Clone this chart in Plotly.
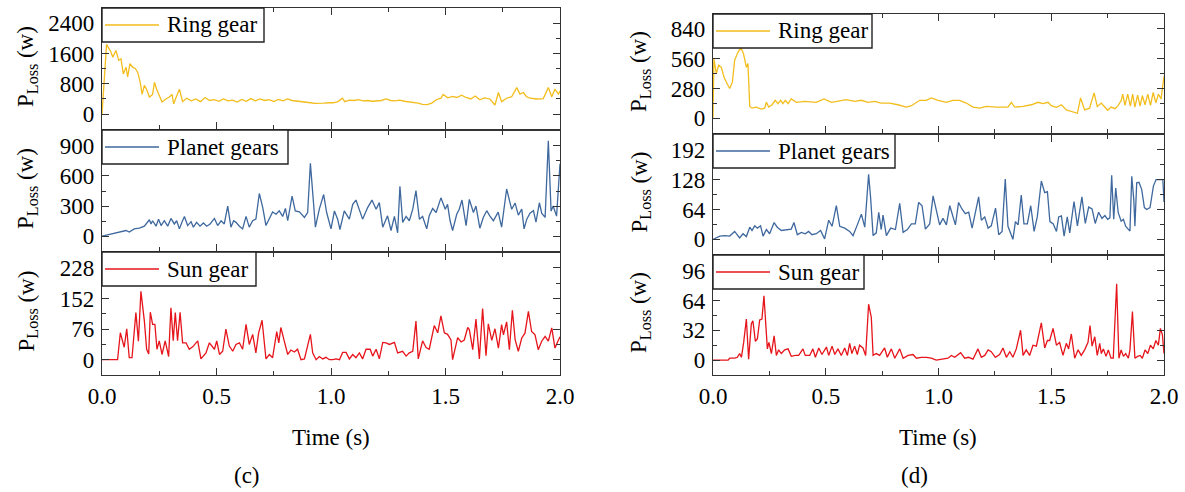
import plotly.graph_objects as go

W, H = 1185, 492
FONT = '"Liberation Serif", "Times New Roman", Times, serif'

# ---------------- data: panel (c) ----------------
ring_c_t = [0.000, 0.020, 0.039, 0.047, 0.061, 0.073, 0.083, 0.090, 0.093, 0.105,
            0.112, 0.122, 0.134, 0.146, 0.156, 0.167, 0.175, 0.185, 0.195, 0.207,
            0.221, 0.229, 0.239, 0.253, 0.262, 0.279, 0.294, 0.306, 0.313, 0.323,
            0.338, 0.352, 0.370, 0.390, 0.410, 0.430, 0.450, 0.470, 0.490, 0.510,
            0.530, 0.550, 0.570, 0.590, 0.610, 0.630, 0.650, 0.670, 0.690, 0.710,
            0.730, 0.750, 0.770, 0.790, 0.810, 0.830, 0.850, 0.870, 0.890, 0.910,
            0.930, 0.950, 0.970, 0.990, 1.010, 1.030, 1.050, 1.060, 1.080, 1.100,
            1.120, 1.140, 1.160, 1.180, 1.200, 1.220, 1.240, 1.260, 1.280, 1.300,
            1.320, 1.340, 1.360, 1.380, 1.400, 1.420, 1.440, 1.460, 1.480, 1.490,
            1.510, 1.530, 1.550, 1.570, 1.590, 1.610, 1.630, 1.650, 1.670, 1.694,
            1.716, 1.731, 1.745, 1.767, 1.789, 1.811, 1.825, 1.840, 1.854, 1.869,
            1.898, 1.927, 1.949, 1.964, 1.978, 1.993, 2.000]
ring_c_p = [0, 1840, 1640, 1500, 1680, 1420, 1460, 1200, 1060, 1240,
            980, 1330, 1240, 1200, 1100, 840, 520, 760, 650, 450,
            520, 840, 650, 450, 320, 400, 450, 520, 270, 430,
            660, 330, 420, 350, 400, 330, 440, 360, 380, 340,
            400, 350, 370, 320, 390, 340, 410, 350, 400, 360,
            380, 330, 390, 350, 400, 360, 340, 330, 310, 300,
            285, 280, 290, 300, 300, 330, 420, 330, 370, 360,
            380, 350, 360, 340, 350, 360, 400, 360, 350, 370,
            340, 330, 320, 290, 260, 250, 290, 380, 420, 520,
            430, 470, 440, 500, 440, 400, 480, 380, 430, 400,
            240, 570, 330, 420, 460, 700, 530, 570, 460, 420,
            400, 410, 700, 460, 660, 530, 610]

planet_c_t = [0.000, 0.030, 0.068, 0.105, 0.119, 0.141, 0.163, 0.185, 0.207, 0.214,
              0.221, 0.236, 0.247, 0.258, 0.272, 0.287, 0.301, 0.316, 0.326, 0.338,
              0.349, 0.360, 0.374, 0.389, 0.399, 0.413, 0.428, 0.443, 0.457, 0.472,
              0.491, 0.505, 0.520, 0.534, 0.549, 0.563, 0.575, 0.585, 0.600, 0.614,
              0.629, 0.643, 0.658, 0.672, 0.687, 0.702, 0.716, 0.731, 0.745, 0.760,
              0.774, 0.789, 0.801, 0.811, 0.830, 0.844, 0.862, 0.884, 0.898, 0.910,
              0.920, 0.932, 0.949, 0.968, 0.981, 1.000, 1.015, 1.029, 1.039, 1.058,
              1.080, 1.095, 1.109, 1.124, 1.138, 1.160, 1.179, 1.197, 1.211, 1.226,
              1.247, 1.262, 1.277, 1.291, 1.301, 1.313, 1.328, 1.342, 1.357, 1.371,
              1.386, 1.400, 1.418, 1.429, 1.444, 1.459, 1.470, 1.480, 1.499, 1.509,
              1.520, 1.531, 1.549, 1.560, 1.572, 1.590, 1.604, 1.622, 1.633, 1.650,
              1.665, 1.680, 1.694, 1.709, 1.730, 1.745, 1.767, 1.779, 1.789, 1.804,
              1.818, 1.833, 1.843, 1.855, 1.869, 1.884, 1.895, 1.910, 1.920, 1.935,
              1.949, 1.961, 1.970, 1.985, 1.995, 2.000]
planet_c_p = [0, 15, 34, 57, 41, 73, 80, 100, 164, 122,
              154, 100, 170, 106, 154, 100, 177, 122, 154, 73,
              138, 197, 106, 145, 90, 138, 100, 132, 100, 122,
              177, 106, 154, 122, 300, 90, 154, 138, 100, 73,
              197, 90, 154, 170, 425, 285, 106, 170, 242, 219,
              252, 197, 276, 154, 399, 252, 242, 187, 236, 725,
              464, 90, 269, 415, 236, 73, 252, 170, 67, 252,
              170, 317, 360, 252, 170, 285, 360, 269, 334, 90,
              203, 57, 197, 34, 497, 138, 197, 154, 269, 454,
              170, 197, 73, 203, 276, 236, 317, 382, 269, 317,
              154, 57, 219, 269, 360, 106, 366, 236, 300, 80,
              187, 254, 200, 154, 240, 90, 470, 360, 268, 330,
              210, 270, 73, 170, 230, 254, 140, 333, 230, 187,
              950, 250, 300, 200, 500, 720]

sun_c_t = [0.000, 0.068, 0.080, 0.097, 0.108, 0.119, 0.131, 0.148, 0.159, 0.170,
           0.185, 0.195, 0.204, 0.211, 0.221, 0.231, 0.240, 0.250, 0.262, 0.276,
           0.291, 0.301, 0.311, 0.320, 0.330, 0.341, 0.352, 0.367, 0.381, 0.396,
           0.418, 0.432, 0.454, 0.469, 0.491, 0.501, 0.513, 0.527, 0.541, 0.556,
           0.571, 0.585, 0.600, 0.614, 0.629, 0.643, 0.658, 0.672, 0.684, 0.699,
           0.716, 0.731, 0.745, 0.763, 0.772, 0.781, 0.796, 0.811, 0.825, 0.840,
           0.854, 0.869, 0.884, 0.910, 0.920, 0.935, 0.949, 0.964, 0.978, 0.993,
           1.008, 1.022, 1.037, 1.051, 1.066, 1.080, 1.095, 1.109, 1.124, 1.138,
           1.153, 1.171, 1.182, 1.197, 1.211, 1.226, 1.240, 1.255, 1.277, 1.291,
           1.313, 1.328, 1.342, 1.357, 1.371, 1.381, 1.400, 1.415, 1.429, 1.451,
           1.466, 1.480, 1.495, 1.509, 1.524, 1.531, 1.553, 1.568, 1.582, 1.597,
           1.604, 1.619, 1.633, 1.648, 1.662, 1.677, 1.687, 1.702, 1.716, 1.731,
           1.745, 1.753, 1.767, 1.779, 1.792, 1.804, 1.818, 1.833, 1.847, 1.862,
           1.876, 1.891, 1.905, 1.920, 1.935, 1.949, 1.964, 1.978, 1.988, 2.000]
sun_c_p = [0, 0, 67, 31, 77, 5, 5, 117, 46, 170,
           96, 26, 14, 118, 88, 88, 26, 47, 13, 47,
           8, 129, 47, 117, 47, 118, 42, 42, 26, 32,
           47, 2, 17, 42, 26, 47, 13, 21, 76, 34,
           21, 38, 42, 26, 88, 38, 63, 17, 67, 98,
           2, 13, 5, 70, 42, 80, 46, 13, 24, 19,
           26, 0, 2, 63, 17, 0, 8, 2, 6, 0,
           0, 2, 0, 18, 18, 2, 13, 5, 17, 2,
           26, 26, 9, 26, 2, 43, 42, 38, 43, 17,
           21, 9, 17, 21, 96, 2, 47, 30, 26, 85,
           67, 109, 67, 63, 49, 0, 55, 44, 49, 80,
           75, 25, 101, 2, 127, 10, 89, 48, 77, 29,
           87, 62, 94, 25, 123, 50, 21, 54, 66, 120,
           70, 62, 25, 46, 58, 46, 79, 29, 42, 57]

# ---------------- data: panel (d) ----------------
ring_d_t = [0.000, 0.004, 0.015, 0.025, 0.037, 0.049, 0.064, 0.074, 0.086, 0.096,
            0.108, 0.123, 0.135, 0.148, 0.155, 0.163, 0.173, 0.192, 0.214, 0.229,
            0.237, 0.247, 0.262, 0.276, 0.288, 0.300, 0.310, 0.321, 0.333, 0.347,
            0.370, 0.407, 0.458, 0.492, 0.525, 0.569, 0.591, 0.628, 0.658, 0.687,
            0.717, 0.746, 0.783, 0.820, 0.857, 0.880, 0.917, 0.946, 0.968, 0.998,
            1.035, 1.064, 1.094, 1.123, 1.153, 1.183, 1.212, 1.256, 1.308, 1.323,
            1.338, 1.375, 1.412, 1.441, 1.463, 1.486, 1.500, 1.523, 1.545, 1.567,
            1.589, 1.616, 1.630, 1.648, 1.670, 1.690, 1.704, 1.722, 1.740, 1.750,
            1.765, 1.783, 1.797, 1.810, 1.817, 1.827, 1.839, 1.851, 1.861, 1.871,
            1.883, 1.894, 1.904, 1.916, 1.928, 1.940, 1.952, 1.964, 1.975, 1.987,
            2.000]
ring_d_p = [0, 560, 420, 500, 480, 385, 320, 280, 340, 545,
            610, 665, 610, 480, 515, 112, 96, 106, 87, 96,
            151, 106, 128, 170, 138, 170, 138, 170, 138, 183,
            151, 160, 151, 183, 151, 170, 176, 160, 170, 151,
            160, 144, 144, 128, 106, 119, 170, 170, 192, 170,
            151, 170, 170, 144, 106, 96, 112, 106, 106, 151,
            106, 112, 128, 151, 138, 151, 119, 103, 128, 80,
            64, 48, 192, 80, 96, 240, 112, 144, 100, 76,
            106, 91, 122, 167, 228, 122, 228, 116, 228, 106,
            219, 116, 213, 128, 228, 122, 243, 146, 228, 182,
            395]

planet_d_t = [0.000, 0.007, 0.030, 0.052, 0.074, 0.096, 0.118, 0.133, 0.148, 0.163,
              0.173, 0.185, 0.197, 0.211, 0.222, 0.237, 0.251, 0.271, 0.285, 0.303,
              0.325, 0.347, 0.359, 0.374, 0.392, 0.409, 0.424, 0.439, 0.458, 0.477,
              0.495, 0.513, 0.528, 0.547, 0.562, 0.584, 0.606, 0.621, 0.640, 0.658,
              0.673, 0.690, 0.699, 0.710, 0.724, 0.735, 0.746, 0.754, 0.769, 0.788,
              0.809, 0.828, 0.843, 0.862, 0.880, 0.897, 0.912, 0.927, 0.942, 0.961,
              0.976, 0.990, 1.005, 1.020, 1.035, 1.050, 1.064, 1.075, 1.089, 1.104,
              1.119, 1.134, 1.149, 1.163, 1.178, 1.190, 1.205, 1.220, 1.234, 1.253,
              1.267, 1.282, 1.296, 1.308, 1.320, 1.330, 1.341, 1.353, 1.367, 1.379,
              1.394, 1.409, 1.424, 1.438, 1.456, 1.471, 1.483, 1.494, 1.509, 1.523,
              1.533, 1.545, 1.557, 1.571, 1.582, 1.601, 1.616, 1.636, 1.651, 1.666,
              1.681, 1.695, 1.710, 1.725, 1.738, 1.750, 1.760, 1.768, 1.777, 1.786,
              1.797, 1.810, 1.820, 1.830, 1.839, 1.849, 1.857, 1.866, 1.871, 1.879,
              1.889, 1.901, 1.913, 1.923, 1.938, 1.953, 1.965, 1.985, 1.995, 2.000]
planet_d_p = [0, 2, 7, 8, 7, 17, 3, 12, 6, 26,
              19, 29, 24, 29, 7, 21, 12, 36, 26, 19,
              21, 22, 36, 10, 15, 12, 17, 10, 12, 19,
              1, 41, 28, 72, 28, 24, 17, 8, 31, 54,
              26, 139, 89, 8, 14, 58, 21, 52, 8, 24,
              21, 77, 15, 21, 33, 33, 79, 72, 22, 33,
              93, 65, 31, 45, 31, 72, 48, 31, 79, 65,
              55, 58, 24, 55, 91, 41, 48, 24, 29, 67,
              10, 17, 129, 28, 14, 0, 38, 31, 95, 33,
              33, 72, 17, 48, 125, 100, 102, 38, 33, 17,
              48, 50, 7, 48, 14, 81, 29, 91, 34, 69,
              65, 34, 58, 45, 51, 43, 46, 137, 43, 110,
              57, 39, 43, 28, 23, 18, 135, 85, 28, 121,
              122, 107, 68, 64, 68, 114, 128, 128, 128, 80]

sun_d_t = [0.000, 0.067, 0.074, 0.096, 0.108, 0.118, 0.126, 0.136, 0.148, 0.158,
           0.170, 0.177, 0.188, 0.197, 0.207, 0.217, 0.226, 0.232, 0.241, 0.248,
           0.259, 0.271, 0.281, 0.291, 0.303, 0.318, 0.333, 0.347, 0.365, 0.380,
           0.399, 0.409, 0.429, 0.443, 0.454, 0.469, 0.483, 0.503, 0.513, 0.528,
           0.540, 0.554, 0.569, 0.584, 0.596, 0.606, 0.616, 0.628, 0.640, 0.650,
           0.665, 0.677, 0.690, 0.702, 0.710, 0.724, 0.739, 0.761, 0.773, 0.791,
           0.806, 0.828, 0.843, 0.865, 0.887, 0.902, 0.924, 0.946, 0.968, 0.990,
           1.020, 1.042, 1.057, 1.072, 1.098, 1.116, 1.134, 1.153, 1.175, 1.190,
           1.205, 1.220, 1.234, 1.252, 1.271, 1.286, 1.301, 1.316, 1.330, 1.345,
           1.364, 1.375, 1.389, 1.404, 1.419, 1.434, 1.456, 1.471, 1.483, 1.493,
           1.508, 1.523, 1.537, 1.552, 1.567, 1.577, 1.589, 1.604, 1.619, 1.633,
           1.648, 1.663, 1.672, 1.681, 1.693, 1.704, 1.715, 1.722, 1.731, 1.743,
           1.753, 1.765, 1.775, 1.790, 1.800, 1.810, 1.820, 1.830, 1.842, 1.849,
           1.860, 1.871, 1.883, 1.894, 1.904, 1.916, 1.928, 1.940, 1.952, 1.964,
           1.975, 1.984, 1.993, 2.000]
sun_d_p = [0, 0, 2, 2, 3, 7, 3, 19, 44, 1,
           39, 42, 20, 23, 43, 44, 69, 42, 12, 19,
           7, 26, 5, 11, 7, 11, 12, 4, 5, 5,
           12, 5, 5, 12, 3, 13, 6, 14, 5, 15,
           6, 12, 5, 13, 5, 18, 7, 15, 6, 16,
           13, 5, 60, 46, 5, 7, 5, 13, 3, 12,
           2, 12, 2, 5, 6, 2, 3, 3, 2, 0,
           1, 2, 5, 3, 8, 2, 3, 1, 12, 3,
           5, 11, 9, 3, 6, 13, 3, 9, 3, 12,
           32, 5, 11, 5, 16, 15, 40, 13, 21, 21,
           34, 16, 19, 5, 18, 12, 28, 2, 11, 5,
           11, 19, 37, 15, 25, 5, 18, 7, 12, 4,
           11, 2, 2, 82, 2, 11, 4, 7, 2, 11,
           52, 2, 4, 5, 2, 11, 7, 16, 12, 21,
           16, 34, 27, 7]

series_names = ["Ring gear", "Planet gears", "Sun gear"]
series_colors = ["#F2BD1D", "#3E689E", "#E6141B"]
y_major_c = [800, 300, 76]
y_major_d = [280, 64, 32]
x_ticks = [0.0, 0.5, 1.0, 1.5, 2.0]
panel_labels = ["(c)", "(d)"]

# ---------------- layout geometry (pixels) ----------------
LW = 1.4          # axis line width
HALF = LW / 2     # stacked panels share one frame line

def fx(x):
    return x / W

def fy(y):
    return 1 - y / H

cols = [
    dict(x0=102, x1=560, rows=[(8, 130), (130, 252), (252, 375)],
         leg_right=[264, 288, 256], title_x=27, time_x=331, lab_x=247,
         data=[(ring_c_t, ring_c_p), (planet_c_t, planet_c_p), (sun_c_t, sun_c_p)],
         majors=y_major_c),
    dict(x0=713, x1=1164, rows=[(14, 134), (134, 255), (255, 375)],
         leg_right=[872, 895, 864], title_x=640, time_x=938, lab_x=914,
         data=[(ring_d_t, ring_d_p), (planet_d_t, planet_d_p), (sun_d_t, sun_d_p)],
         majors=y_major_d),
]

AX_COLOR = "#333333"
fig = go.Figure()
layout = dict(width=W, height=H, margin=dict(l=0, r=0, t=0, b=0, pad=0),
              autosize=False,
              paper_bgcolor="white", plot_bgcolor="white", showlegend=False,
              font=dict(family=FONT, size=23, color="black"))
shapes, annotations = [], []

k = 0
for ci, col in enumerate(cols):
    for ri in range(3):
        k += 1
        xa = "xaxis" if k == 1 else f"xaxis{k}"
        ya = "yaxis" if k == 1 else f"yaxis{k}"
        xr = "x" if k == 1 else f"x{k}"
        yr = "y" if k == 1 else f"y{k}"
        top, bot = col["rows"][ri]
        # inner plot area, so that neighbouring frame lines coincide
        top_in = top + (HALF if ri > 0 else 0)
        bot_in = bot - (HALF if ri < 2 else 0)
        t, p = col["data"][ri]
        d = col["majors"][ri]
        fig.add_trace(go.Scatter(x=t, y=p, mode="lines", name=series_names[ri],
                                 line=dict(color=series_colors[ri], width=1.3),
                                 xaxis=xr, yaxis=yr))
        layout[xa] = dict(domain=[fx(col["x0"]), fx(col["x1"])], anchor=yr,
                          range=[0, 2], tickvals=x_ticks, tickformat=".1f",
                          showticklabels=(ri == 2), ticks="inside", ticklen=7,
                          tickwidth=1.3, tickcolor=AX_COLOR, mirror="allticks",
                          showline=True, linecolor=AX_COLOR, linewidth=LW,
                          showgrid=False, zeroline=False, ticklabelstandoff=0,
                          automargin=False,
                          tickfont=dict(family=FONT, size=23, color="black"),
                          minor=dict(dtick=0.25, tick0=0, ticks="inside", ticklen=4,
                                     tickwidth=1.3, tickcolor=AX_COLOR, showgrid=False))
        layout[ya] = dict(domain=[fy(bot_in), fy(top_in)], anchor=xr,
                          range=[-0.5 * d, 3.5 * d], tickvals=[0, d, 2 * d, 3 * d],
                          ticks="inside", ticklen=7, tickwidth=1.3, tickcolor=AX_COLOR,
                          mirror="allticks", showline=True, linecolor=AX_COLOR,
                          linewidth=LW, showgrid=False, zeroline=False,
                          ticklabelstandoff=2, automargin=False,
                          tickfont=dict(family=FONT, size=23, color="black"),
                          minor=dict(dtick=d / 2, tick0=0, ticks="inside", ticklen=4,
                                     tickwidth=1.3, tickcolor=AX_COLOR, showgrid=False))
        # legend box
        lx0, lx1 = col["x0"], col["leg_right"][ri]
        ly0, ly1 = top, top + 34
        ymid = (ly0 + ly1) / 2
        shapes.append(dict(type="rect", xref="paper", yref="paper",
                           x0=fx(lx0), x1=fx(lx1), y0=fy(ly1), y1=fy(ly0),
                           line=dict(color="#222222", width=1.4), fillcolor="white",
                           layer="above"))
        shapes.append(dict(type="line", xref="paper", yref="paper",
                           x0=fx(lx0 + 3), x1=fx(lx0 + 57), y0=fy(ymid), y1=fy(ymid),
                           line=dict(color=series_colors[ri], width=1.3), layer="above"))
        annotations.append(dict(text=series_names[ri], xref="paper", yref="paper",
                                x=fx(lx0 + 63), y=fy(ymid), xanchor="left",
                                yanchor="middle", showarrow=False,
                                font=dict(family=FONT, size=23, color="black")))
        # y-axis title
        annotations.append(dict(text="P<sub>Loss</sub> (w)", xref="paper", yref="paper",
                                x=fx(col["title_x"]), y=fy((top + bot) / 2 - 2),
                                xanchor="center", yanchor="middle", textangle=-90,
                                showarrow=False,
                                font=dict(family=FONT, size=23, color="black")))
    annotations.append(dict(text="Time (s)", xref="paper", yref="paper",
                            x=fx(col["time_x"]), y=fy(437), xanchor="center",
                            yanchor="middle", showarrow=False,
                            font=dict(family=FONT, size=23, color="black")))
    annotations.append(dict(text=panel_labels[ci], xref="paper", yref="paper",
                            x=fx(col["lab_x"]), y=fy(475), xanchor="center",
                            yanchor="middle", showarrow=False,
                            font=dict(family=FONT, size=23, color="black")))

layout["shapes"] = shapes
layout["annotations"] = annotations
fig.update_layout(**layout)
fig.write_html("out.html", config={"displayModeBar": False},
               post_script="document.body.style.margin='0px';")
